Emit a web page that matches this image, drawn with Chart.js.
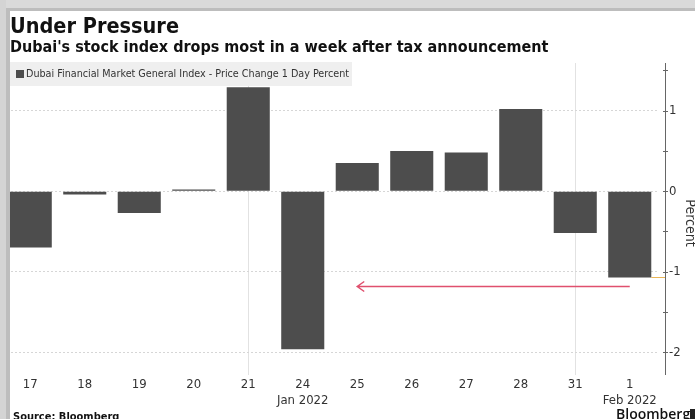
<!DOCTYPE html>
<html>
<head>
<meta charset="utf-8">
<script src="https://cdn.jsdelivr.net/npm/chart.js@4"></script>
<style>
  html, body { margin: 0; padding: 0; background: #fff; }
  #wrap { position: relative; width: 695px; height: 419px; overflow: hidden; background: #fff; }
  #chart { position: absolute; left: 0; top: 0; }
  .txt { position: absolute; white-space: nowrap; color: #111; }
  #title { left: 10px; top: 13px; font: bold 21.5px "DejaVu Sans Condensed", "DejaVu Sans"; font-stretch: condensed; }
  #subtitle { left: 10px; top: 37px; font: bold 16px "DejaVu Sans Condensed", "DejaVu Sans"; font-stretch: condensed; }
  #legend { position: absolute; left: 10px; top: 62px; width: 342px; height: 24px; background: #efefef; }
  #legend .sq { position: absolute; left: 6px; top: 8px; width: 8px; height: 8px; background: #4d4d4d; }
  #legend .lab { position: absolute; left: 16px; top: 5px; font: 10.7px "DejaVu Sans Condensed", "DejaVu Sans"; font-stretch: condensed; color: #333; white-space: nowrap; }
  #source { left: 13px; top: 410px; font: bold 11px "DejaVu Sans Condensed", "DejaVu Sans"; font-stretch: condensed; }
  #brand { left: 616px; top: 404px; font: 600 14px "Open Sans", Roboto; color: #111; }
  #logo { position: absolute; left: 690px; top: 409px; width: 6px; height: 10px; background: #222; }
  .frame { position: absolute; }
</style>
</head>
<body>
<div id="wrap">
  <canvas id="chart" width="695" height="419"></canvas>
  <div class="txt" id="title">Under Pressure</div>
  <div class="txt" id="subtitle">Dubai's stock index drops most in a week after tax announcement</div>
  <div id="legend"><div class="sq"></div><div class="lab">Dubai Financial Market General Index - Price Change 1 Day Percent</div></div>
  <div class="txt" id="source">Source: Bloomberg</div>
  <div class="txt" id="brand">Bloomberg</div>
  <div id="logo"></div>
  <div class="frame" style="left:0;top:0;width:695px;height:8px;background:#dadada"></div>
  <div class="frame" style="left:6px;top:8px;width:689px;height:3px;background:#bdbdbd"></div>
  <div class="frame" style="left:0;top:0;width:6px;height:419px;background:#d4d4d4"></div>
  <div class="frame" style="left:6px;top:8px;width:4px;height:411px;background:#bdbdbd"></div>
</div>
<script>
// trading days, 17 Jan - 1 Feb 2022
const days = ['17', '18', '19', '20', '21', '24', '25', '26', '27', '28', '31', '1'];
const monthLabels = ['', '', '', '', '', 'Jan 2022', '', '', '', '', '', 'Feb 2022'];
const priceChange = [-0.70, -0.04, -0.27, 0.02, 1.29, -1.96, 0.35, 0.50, 0.48, 1.02, -0.52, -1.07];
const yTicks = [-2, -1, 0, 1];
const weekLines = ['21', '31'];
// annotation arrow: from "1" back to "25"
const arrowFrom = 11;
const arrowTo = 6;
const arrowLevel = -1.18;

const labels = days.map((d, i) => monthLabels[i] ? [d, monthLabels[i]] : d);

const axisExtras = {
    id: 'axisExtras',
    afterDraw(chart) {
        const { ctx, chartArea, scales } = chart;
        const x = scales.x, y = scales.y;
        const axisX = chartArea.right + 8;
        ctx.save();

        // right axis line and ticks
        ctx.strokeStyle = '#666';
        ctx.lineWidth = 1;
        ctx.beginPath();
        ctx.moveTo(axisX + 0.5, chartArea.top);
        ctx.lineTo(axisX + 0.5, chartArea.bottom);
        for (let v = -2; v <= 1.5; v += 0.5) {
            const py = Math.round(y.getPixelForValue(v)) + 0.5;
            ctx.moveTo(axisX - 2, py);
            ctx.lineTo(axisX + 3, py);
        }
        ctx.stroke();

        // last value marker
        const meta = chart.getDatasetMeta(0);
        const last = meta.data[meta.data.length - 1];
        const ly = Math.round(y.getPixelForValue(priceChange[priceChange.length - 1])) + 0.5;
        ctx.strokeStyle = '#e9b555';
        ctx.beginPath();
        ctx.moveTo(last.x + last.width / 2, ly);
        ctx.lineTo(axisX, ly);
        ctx.stroke();

        // arrow annotation
        const ay = Math.round(y.getPixelForValue(arrowLevel)) + 0.5;
        const ax1 = x.getPixelForValue(arrowFrom);
        const ax2 = x.getPixelForValue(arrowTo);
        ctx.strokeStyle = '#e0506e';
        ctx.lineWidth = 1.5;
        ctx.beginPath();
        ctx.moveTo(ax1, ay);
        ctx.lineTo(ax2, ay);
        ctx.moveTo(ax2 + 7, ay - 5);
        ctx.lineTo(ax2, ay);
        ctx.lineTo(ax2 + 7, ay + 5);
        ctx.stroke();

        // axis title
        ctx.translate(690, (chartArea.top + chartArea.bottom) / 2 + 4);
        ctx.rotate(Math.PI / 2);
        ctx.fillStyle = '#333';
        ctx.font = '14px "DejaVu Sans Condensed", "DejaVu Sans"';
        ctx.textAlign = 'center';
        ctx.textBaseline = 'middle';
        ctx.fillText('Percent', 0, 0);
        ctx.restore();
    }
};

new Chart(document.getElementById('chart'), {
    type: 'bar',
    data: {
        labels: labels,
        datasets: [{
            label: 'Dubai Financial Market General Index - Price Change 1 Day Percent',
            data: priceChange,
            backgroundColor: '#4d4d4d',
            borderWidth: 0,
            categoryPercentage: 1,
            barPercentage: 0.79
        }]
    },
    options: {
        responsive: false,
        animation: false,
        layout: { padding: { left: 3, top: 63, right: 0, bottom: 0 } },
        plugins: {
            legend: { display: false },
            tooltip: { enabled: false }
        },
        scales: {
            x: {
                afterFit: (s) => { s.height = 44; },
                grid: {
                    offset: false,
                    drawTicks: false,
                    color: (c) => weekLines.includes(days[c.index]) ? '#e2e2e2' : 'transparent'
                },
                border: { display: false },
                ticks: {
                    padding: 2,
                    maxRotation: 0,
                    autoSkip: false,
                    color: '#333',
                    font: { family: '"DejaVu Sans Condensed", "DejaVu Sans"', size: 13 }
                }
            },
            y: {
                position: 'right',
                min: -2.28,
                max: 1.59,
                afterFit: (s) => { s.width = 38; },
                afterBuildTicks: (s) => { s.ticks = yTicks.map(v => ({ value: v })); },
                grid: {
                    drawTicks: false,
                    color: '#d6d6d6'
                },
                border: { display: false, dash: [2, 2] },
                ticks: {
                    padding: 12,
                    color: '#333',
                    font: { family: '"DejaVu Sans Condensed", "DejaVu Sans"', size: 13 }
                }
            }
        }
    },
    plugins: [axisExtras]
});
</script>
</body>
</html>
